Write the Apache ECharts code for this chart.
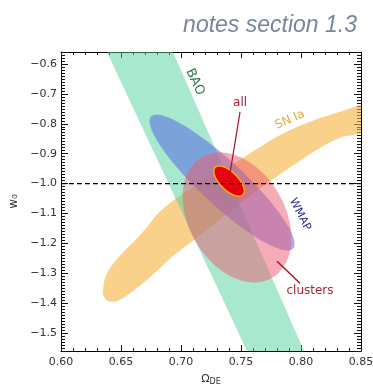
<!DOCTYPE html>
<html><head><meta charset="utf-8">
<script src="https://cdn.jsdelivr.net/npm/echarts@6/dist/echarts.min.js"></script>
<style>html,body{margin:0;padding:0;background:#fff}#c{width:373px;height:388px}</style>
</head><body><div id="c"></div>
<script>
// ---- data ----
const xRange = [0.60, 0.85];
const yRange = [-1.56, -0.56];
const xTickStep = 0.05;
const yTickStep = 0.1;

// BAO band corners (Omega_DE, w0)
const baoBand = [[0.6383, -0.56], [0.6933, -0.56], [0.8025, -1.56], [0.755, -1.56]];

// SN Ia contour outline (Omega_DE, w0)
const snOutline = [
  [0.635, -1.3533], [0.6375, -1.3067], [0.645, -1.26], [0.6575, -1.2067], [0.67, -1.1533],
  [0.6825, -1.0933], [0.7017, -1.0333], [0.7242, -0.98], [0.7492, -0.92], [0.78, -0.8433],
  [0.8075, -0.7933], [0.8325, -0.76], [0.8533, -0.74], [0.8533, -0.8233], [0.8325, -0.8467],
  [0.8133, -0.8867], [0.7908, -0.9467], [0.7658, -1.0167], [0.7408, -1.0933], [0.7158, -1.1733],
  [0.695, -1.2367], [0.6742, -1.3133], [0.6575, -1.3667], [0.6467, -1.3933], [0.6392, -1.3933],
  [0.635, -1.3733]
];

// Ellipses: centre and two conjugate half-axis vectors (data units)
const ellipseNames   = ['WMAP', 'clusters', 'all'];
const ellipseCenters = [[0.7342, -0.9967], [0.7467, -1.1133], [0.7400, -0.9917]];
const ellipseAxisA   = [[0.0591, -0.2207], [0.02917, -0.2021], [0.0115, -0.0460]];
const ellipseAxisB   = [[-0.0125, -0.0536], [-0.03464, -0.0800], [-0.00533, -0.0212]];

// reference line
const refW = -1.0;

// annotation labels
const labelTexts = ['BAO', 'SN Ia', 'all', 'WMAP', 'clusters'];
const labelPos   = [[0.7117, -0.66], [0.7908, -0.7867], [0.7492, -0.73], [0.7992, -1.1033], [0.8075, -1.36]];
const leaderAll      = [[0.7492, -0.76], [0.7408, -0.9667]];
const leaderClusters = [[0.7800, -1.26], [0.7992, -1.3333]];

// ---- styles ----
const labelRot    = [-65, 24, 0, -63, 0];
const labelColors = ['#2d7a4a', '#e8a83a', '#b51d36', '#2b2b8f', '#a8283a'];
const labelSizes  = [13, 12, 12, 11, 12];

function ellipsePoints(c, a, b) {
  const pts = [];
  for (let i = 0; i < 90; i++) {
    const t = i / 90 * 2 * Math.PI;
    pts.push([c[0] + a[0] * Math.cos(t) + b[0] * Math.sin(t),
              c[1] + a[1] * Math.cos(t) + b[1] * Math.sin(t)]);
  }
  return pts;
}

function shapeSeries(pts, style, z, smooth) {
  return {
    type: 'custom', coordinateSystem: 'cartesian2d', xAxisIndex: 0, yAxisIndex: 0,
    silent: true, z: z, data: [pts[0]],
    renderItem: function (params, api) {
      const cs = params.coordSys;
      return {
        type: 'group',
        clipPath: { type: 'rect', shape: { x: cs.x, y: cs.y, width: cs.width, height: cs.height } },
        children: [{ type: 'polygon', shape: { points: pts.map(p => api.coord(p)), smooth: smooth || 0 }, style: style }]
      };
    }
  };
}

function isMult(v, step) { const r = v / step; return Math.abs(r - Math.round(r)) < 1e-6; }

const chart = echarts.init(document.getElementById('c'));

const tickCol = '#111';
const font = 'DejaVu Sans';

const series = [
  shapeSeries(snOutline, { fill: 'rgba(247,178,60,0.6)' }, 1, 0.3),
  shapeSeries(baoBand, { fill: 'rgba(80,210,160,0.5)' }, 2),
  shapeSeries(ellipsePoints(ellipseCenters[0], ellipseAxisA[0], ellipseAxisB[0]), { fill: 'rgba(90,105,225,0.55)' }, 3),
  shapeSeries(ellipsePoints(ellipseCenters[1], ellipseAxisA[1], ellipseAxisB[1]), { fill: 'rgba(235,90,110,0.5)' }, 4),
  shapeSeries(ellipsePoints(ellipseCenters[2], ellipseAxisA[2], ellipseAxisB[2]), { fill: '#e8000f', stroke: '#f0b000', lineWidth: 1.5 }, 5),
  {
    type: 'line', data: [[xRange[0], refW], [xRange[1], refW]], symbol: 'none', silent: true, z: 6,
    lineStyle: { color: '#000', width: 1.2, type: [5, 3] }
  },
  {
    type: 'line', data: leaderAll, symbol: 'none', silent: true, z: 6,
    lineStyle: { color: '#a81528', width: 1.2 }
  },
  {
    type: 'line', data: leaderClusters, symbol: 'none', silent: true, z: 6,
    lineStyle: { color: '#a81528', width: 1.5 }
  },
  {
    type: 'custom', coordinateSystem: 'cartesian2d', silent: true, z: 7,
    data: labelPos.map((p, i) => [p[0], p[1], i]),
    renderItem: function (params, api) {
      const i = params.dataIndex;
      const p = api.coord([api.value(0), api.value(1)]);
      return {
        type: 'text', x: p[0], y: p[1], rotation: labelRot[i] * Math.PI / 180,
        style: {
          text: labelTexts[i], fill: labelColors[i], fontFamily: font, fontSize: labelSizes[i],
          align: 'center', verticalAlign: 'middle'
        }
      };
    }
  }
];

const xCommon = {
  type: 'value', min: xRange[0], max: xRange[1], interval: xTickStep,
  splitLine: { show: false },
  axisLine: { show: true, onZero: false, lineStyle: { color: '#000', width: 1 } },
  axisTick: { show: true, inside: true, length: 6, lineStyle: { color: tickCol, width: 1 } },
  minorTick: { show: true, splitNumber: 5, length: 3, lineStyle: { color: tickCol, width: 1 } },
  minorSplitLine: { show: false }
};
const yCommon = {
  type: 'value', min: yRange[0], max: yRange[1], minInterval: yTickStep, maxInterval: yTickStep,
  splitLine: { show: false },
  axisLine: { show: true, onZero: false, lineStyle: { color: '#000', width: 1 } },
  axisTick: { show: true, inside: true, length: 7, lineStyle: { color: tickCol, width: 1 } },
  minorTick: { show: true, splitNumber: 10, length: 4, lineStyle: { color: tickCol, width: 1 } },
  minorSplitLine: { show: false }
};

const option = {
  animation: false,
  backgroundColor: '#fff',
  title: {
    text: 'notes section 1.3', right: 11, top: 9,
    textStyle: { fontFamily: 'Liberation Sans', fontStyle: 'italic', fontWeight: 'normal', fontSize: 23, color: '#7a849b' }
  },
  grid: { left: 61, right: 12, top: 52, bottom: 37, containLabel: false, outerBoundsMode: 'none' },
  xAxis: [
    Object.assign({}, xCommon, {
      position: 'bottom',
      axisLabel: { show: true, margin: 6, fontFamily: font, fontSize: 11, color: '#333',
        formatter: v => v.toFixed(2) },
      name: '{a|Ω}{b|DE}', nameLocation: 'middle', nameGap: 22,
      nameTextStyle: { rich: {
        a: { fontFamily: font, fontSize: 11, color: '#333' },
        b: { fontFamily: font, fontSize: 8, color: '#333', padding: [5, 0, 0, 0] } } }
    }),
    Object.assign({}, xCommon, { position: 'top', axisLabel: { show: false } })
  ],
  yAxis: [
    Object.assign({}, yCommon, {
      position: 'left',
      axisLabel: { show: true, margin: 4, fontFamily: font, fontSize: 11, color: '#333',
        formatter: v => isMult(v, yTickStep) ? v.toFixed(1).replace('-', '\u2212') : '' },
      name: 'w\u2080', nameLocation: 'middle', nameGap: 35, nameRotate: 90,
      nameTextStyle: { fontFamily: font, fontSize: 12, color: '#333' }
    }),
    Object.assign({}, yCommon, { position: 'right', axisLabel: { show: false } })
  ],
  series: series
};
chart.setOption(option);
</script>
</body></html>
